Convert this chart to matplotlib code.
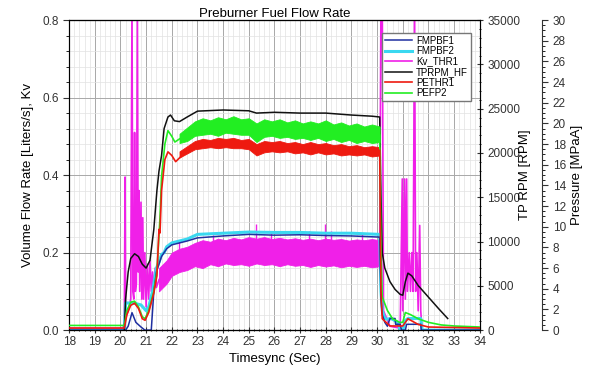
import matplotlib
matplotlib.use("Agg")
import matplotlib.pyplot as plt
from matplotlib.ticker import MultipleLocator

plt.rcParams['font.family'] = ['Liberation Sans', 'DejaVu Sans']

# ---- data ----
# TPRPM_HF  [RPM]
t_rpm = [20.15, 20.2, 20.3, 20.4, 20.55, 20.7, 20.85, 21.0, 21.15, 21.3, 21.42, 21.5, 21.6, 21.7,
         21.85, 21.95, 22.1, 22.3, 22.6, 23.0, 24.0, 25.0, 25.3, 26.0, 27.0, 28.0, 29.0, 29.8, 30.1,
         30.15, 30.2, 30.3, 30.5, 30.7, 30.9, 31.0, 31.1, 31.2, 31.35, 31.6, 32.0, 32.4, 32.75]
rpm = [0, 3500, 6560, 8090, 8620, 8310, 7440, 7000, 7880, 11380, 15750, 17940, 19690, 22750,
       24060, 24280, 23630, 23540, 24060, 24720, 24850, 24760, 24500, 24590, 24500, 24500, 24280, 24150, 24060,
       15310, 8750, 7000, 5470, 4590, 4030, 3940, 5470, 6430, 6130, 5030, 3720, 2410, 1310]

# PEFP2 [MPa]
t_pefp = [18.0, 20.15, 20.25, 20.4, 20.55, 20.7, 20.85, 20.96, 21.1, 21.3, 21.42, 21.54, 21.6, 21.73,
          21.85, 22.0, 22.12, 22.3, 22.6, 23.0, 24.0, 25.0, 25.3, 26.0, 27.0, 28.0, 29.0, 30.1,
          30.15, 30.2, 30.4, 30.6, 30.88, 31.0, 31.1, 31.3, 31.6, 32.0, 32.5, 33.0, 34.0]
pefp = [0.45, 0.45, 1.9, 2.7, 2.8, 2.25, 1.3, 1.1, 1.9, 3.75, 5.6, 10.9, 14.8, 18.0,
        19.3, 18.75, 18.2, 18.5, 18.9, 19.6, 19.8, 19.7, 19.3, 19.5, 19.3, 19.2, 19.0, 18.9,
        7.5, 3.2, 1.9, 1.1, 0.75, 0.75, 1.7, 1.5, 1.1, 0.75, 0.5, 0.4, 0.3]
t_band = [22.3, 22.6, 22.9, 23.2, 23.5, 23.8, 24.1, 24.4, 24.7, 25.0, 25.3, 25.6, 25.9, 26.2,
          26.5, 26.8, 27.1, 27.4, 27.7, 28.0, 28.3, 28.6, 28.9, 29.2, 29.5, 29.8, 30.1]
pefp_lo = [18.1, 18.3, 18.8, 18.9, 19.0, 18.8, 19.1, 19.0, 18.9, 18.9, 18.2, 18.7, 18.8, 18.6,
           18.7, 18.5, 18.6, 18.4, 18.6, 18.3, 18.5, 18.2, 18.4, 18.1, 18.3, 18.1, 18.2]
pefp_hi = [19.0, 19.6, 20.2, 20.5, 20.3, 20.6, 20.4, 20.7, 20.4, 20.5, 20.0, 20.4, 20.2, 20.4,
           20.1, 20.3, 20.0, 20.2, 20.0, 20.3, 19.9, 20.1, 19.8, 20.0, 19.7, 19.9, 19.7]

# PETHR1 [MPa]
t_pethr = [18.0, 20.15, 20.25, 20.4, 20.55, 20.7, 20.85, 20.96, 21.1, 21.3, 21.42, 21.5, 21.54, 21.6,
           21.73, 21.85, 22.0, 22.15, 22.4, 22.6, 23.0, 24.0, 25.0, 25.3, 26.0, 27.0, 28.0, 29.0,
           30.1, 30.15, 30.2, 30.5, 31.0, 31.2, 31.6, 32.0, 34.0]
pethr = [0.2, 0.2, 1.5, 2.4, 2.6, 2.1, 1.1, 0.95, 1.7, 3.6, 5.25, 9.75, 9.4, 13.5,
         16.5, 17.25, 16.9, 16.3, 16.9, 17.4, 18.0, 18.1, 18.0, 17.4, 17.7, 17.6, 17.6, 17.5,
         17.4, 3.75, 1.1, 0.4, 0.4, 1.1, 0.55, 0.3, 0.2]
pethr_lo = [16.7, 17.1, 17.5, 17.6, 17.7, 17.6, 17.7, 17.6, 17.6, 17.5, 16.9, 17.2, 17.3, 17.2,
            17.3, 17.1, 17.2, 17.0, 17.2, 17.0, 17.1, 16.9, 17.0, 16.9, 17.0, 16.8, 16.9]
pethr_hi = [17.3, 17.8, 18.3, 18.5, 18.4, 18.6, 18.5, 18.6, 18.4, 18.5, 18.0, 18.3, 18.2, 18.3,
            18.1, 18.2, 18.0, 18.2, 18.0, 18.1, 17.9, 18.0, 17.8, 17.9, 17.7, 17.8, 17.7]

# FMPBF2 [L/s]
t_fm2 = [18.0, 20.15, 20.2, 20.5, 20.8, 21.0, 21.1, 21.25, 21.4, 21.5, 21.6, 21.7, 21.8, 22.0, 22.3,
         22.6, 23.0, 24.0, 25.0, 26.0, 27.0, 28.0, 29.0, 30.1, 30.15, 30.2, 30.3, 30.4, 30.5, 30.6,
         30.8, 30.9, 31.0, 31.1, 31.2, 31.5, 31.7, 31.75, 32.0, 34.0]
fm2 = [0.0, 0.0, 0.07, 0.07, 0.065, 0.05, 0.06, 0.1, 0.16, 0.175, 0.195, 0.2, 0.215, 0.225, 0.23,
       0.235, 0.247, 0.25, 0.253, 0.252, 0.252, 0.25, 0.25, 0.247, 0.1, 0.05, 0.03, 0.028, 0.03, 0.028,
       0.02, 0.0, 0.0, 0.025, 0.03, 0.03, 0.03, 0.0, 0.0, 0.0]

# FMPBF1 [L/s]
t_fm1 = [18.0, 20.2, 20.3, 20.45, 20.6, 20.8, 20.95, 21.2, 21.3, 21.4, 21.5, 21.6, 21.8, 22.0, 22.3,
         22.6, 23.0, 24.0, 25.0, 26.0, 27.0, 28.0, 29.0, 30.1, 30.15, 30.2, 30.3, 30.4, 30.45, 30.5,
         30.7, 30.72, 30.9, 30.95, 31.1, 31.15, 31.7, 31.72, 34.0]
fm1 = [0.0, 0.0, 0.01, 0.045, 0.02, 0.008, 0.0, 0.0, 0.1, 0.15, 0.17, 0.19, 0.21, 0.22, 0.225,
       0.23, 0.238, 0.243, 0.247, 0.245, 0.246, 0.244, 0.243, 0.24, 0.08, 0.04, 0.02, 0.01, 0.02, 0.03,
       0.03, 0.015, 0.015, 0.0, 0.0, 0.015, 0.015, 0.0, 0.0]

# Kv_THR1
t_kv = [18.0, 20.1, 20.15, 20.18, 20.2, 20.3, 20.4, 20.45, 20.48, 20.52, 20.55, 20.58, 20.62, 20.66,
        20.69, 20.72, 20.75, 20.8, 20.83, 20.87, 20.9, 20.95, 21.0, 21.05, 21.1, 21.15, 21.2, 21.25,
        21.3, 21.35, 21.4, 21.5, 21.6, 21.8, 22.0, 22.5, 23.0, 24.0, 25.0, 26.0, 27.0, 28.0, 29.0,
        30.1, 30.15, 30.2, 30.25, 30.5, 30.9, 30.98, 31.0, 31.07, 31.1, 31.15, 31.18, 31.25, 31.3,
        31.35, 31.4, 31.46, 31.5, 31.55, 31.6, 31.66, 31.7, 31.75, 34.0]
kv = [0.005, 0.005, 0.02, 0.395, 0.03, 0.05, 0.08, 0.85, 0.1, 0.08, 0.51, 0.1, 0.12, 0.85,
      0.15, 0.36, 0.1, 0.33, 0.08, 0.29, 0.08, 0.2, 0.06, 0.17, 0.08, 0.18, 0.1, 0.15,
      0.1, 0.16, 0.11, 0.13, 0.14, 0.15, 0.17, 0.185, 0.2, 0.2, 0.205, 0.205, 0.2, 0.2, 0.2,
      0.2, 0.85, 0.85, 0.05, 0.01, 0.005, 0.39, 0.05, 0.39, 0.08, 0.39, 0.1, 0.2, 0.1,
      0.2, 0.1, 0.85, 0.1, 0.2, 0.05, 0.27, 0.05, 0.0, 0.0]
t_kvband = [21.5, 21.8, 22.0, 22.3, 22.6, 22.9, 23.2, 23.5, 23.8, 24.1, 24.4, 24.7, 25.0, 25.3,
            25.6, 25.9, 26.2, 26.5, 26.8, 27.1, 27.4, 27.7, 28.0, 28.3, 28.6, 28.9, 29.2, 29.5, 29.8, 30.1]
kv_lo = [0.1, 0.12, 0.14, 0.15, 0.155, 0.165, 0.16, 0.17, 0.165, 0.172, 0.168, 0.17, 0.166, 0.172,
         0.168, 0.17, 0.165, 0.17, 0.166, 0.168, 0.163, 0.168, 0.164, 0.167, 0.162, 0.166, 0.163, 0.166, 0.162, 0.165]
kv_hi = [0.16, 0.18, 0.2, 0.21, 0.215, 0.225, 0.232, 0.228, 0.236, 0.232, 0.238, 0.234, 0.24, 0.236,
         0.24, 0.235, 0.238, 0.234, 0.237, 0.233, 0.236, 0.232, 0.236, 0.233, 0.235, 0.231, 0.234, 0.232, 0.235, 0.232]
t_kvspike = [22.3, 23.6, 25.3, 25.85, 27.35, 27.95, 28.2, 29.4]
kv_spike = [0.23, 0.245, 0.275, 0.255, 0.255, 0.275, 0.255, 0.25]

c_fm1 = '#1f2fa0'
c_fm2 = '#3ad8f0'
c_kv = '#f020e8'
c_rpm = '#111111'
c_pethr = '#ee1a10'
c_pefp = '#22ee22'

fig = plt.figure(figsize=(5.96, 3.79), dpi=100)
ax = fig.add_axes([0.116, 0.129, 0.689, 0.818])
ax_rpm = ax.twinx()
ax_p = ax.twinx()
ax_p.spines['right'].set_position(('axes', 1.152))

# flows and Kv on left axis
ax.fill_between(t_kvband, kv_lo, kv_hi, color=c_kv, lw=0.6, zorder=2)
ax.vlines(t_kvspike, 0.2, kv_spike, color=c_kv, lw=1, zorder=2)
h_kv, = ax.plot(t_kv, kv, color=c_kv, lw=1.2, label='Kv_THR1', zorder=2)
h_fm2, = ax.plot(t_fm2, fm2, color=c_fm2, lw=2.2, label='FMPBF2', zorder=3)
h_fm1, = ax.plot(t_fm1, fm1, color=c_fm1, lw=1.1, label='FMPBF1', zorder=4)

# pressure
ax_p.fill_between(t_band, pefp_lo, pefp_hi, color=c_pefp, lw=0.6)
h_pefp, = ax_p.plot(t_pefp, pefp, color=c_pefp, lw=1.2, label='PEFP2')
ax_p.fill_between(t_band, pethr_lo, pethr_hi, color=c_pethr, lw=0.6)
h_pethr, = ax_p.plot(t_pethr, pethr, color=c_pethr, lw=1.2, label='PETHR1')

# rpm
h_rpm, = ax_rpm.plot(t_rpm, rpm, color=c_rpm, lw=1.1, label='TPRPM_HF')

ax.set_xlim(18, 34)
ax.set_ylim(0, 0.8)
ax_rpm.set_ylim(0, 35000)
ax_p.set_ylim(0, 30)

ax.xaxis.set_major_locator(MultipleLocator(1))
ax.xaxis.set_minor_locator(MultipleLocator(0.2))
ax.yaxis.set_major_locator(MultipleLocator(0.2))
ax.yaxis.set_minor_locator(MultipleLocator(0.04))
ax.yaxis.set_major_formatter(plt.FuncFormatter(lambda v, p: f'{v:.1f}'))
ax_rpm.yaxis.set_major_locator(MultipleLocator(5000))
ax_rpm.yaxis.set_minor_locator(MultipleLocator(1000))
ax_p.yaxis.set_major_locator(MultipleLocator(2))
ax_p.yaxis.set_minor_locator(MultipleLocator(0.5))

ax.grid(True, which='major', color='#a8a8a8', lw=0.7)
ax.grid(True, which='minor', color='#e2e2e2', lw=0.5)
ax.set_axisbelow(True)

for a in (ax, ax_rpm, ax_p):
    a.tick_params(labelsize=8.5, colors='#333333', labelcolor='#333333')
    a.tick_params(which='major', length=4, width=0.8)
    a.tick_params(which='minor', length=2, width=0.6)
ax.tick_params(axis='x', which='both', direction='inout', pad=2)
ax.tick_params(axis='y', which='both', direction='out')
ax_rpm.tick_params(which='both', direction='inout')
ax_p.tick_params(which='both', direction='out')
for s in ax.spines.values():
    s.set_color('#333333')
ax_p.spines['right'].set_color('#333333')
ax_p.spines['left'].set_visible(False)

ax.set_xlabel('Timesync (Sec)', fontsize=9.5, labelpad=4)
ax.set_ylabel('Volume Flow Rate [Liters/s], Kv', fontsize=9.5, labelpad=6)
ax_rpm.set_ylabel('TP RPM [RPM]', fontsize=9.5, labelpad=-1)
ax_p.set_ylabel('Pressure [MPaA]', fontsize=9.5, labelpad=4)
ax.set_title('Preburner Fuel Flow Rate', fontsize=9.5, pad=2)

ax.legend(handles=[h_fm1, h_fm2, h_kv, h_rpm, h_pethr, h_pefp],
          loc='upper right', bbox_to_anchor=(0.99, 0.975), fontsize=7,
          fancybox=False, edgecolor='#777777', framealpha=1, borderpad=0.3,
          handlelength=2.8, labelspacing=0.05, handletextpad=0.4)

fig.savefig('out.png', dpi=100)
